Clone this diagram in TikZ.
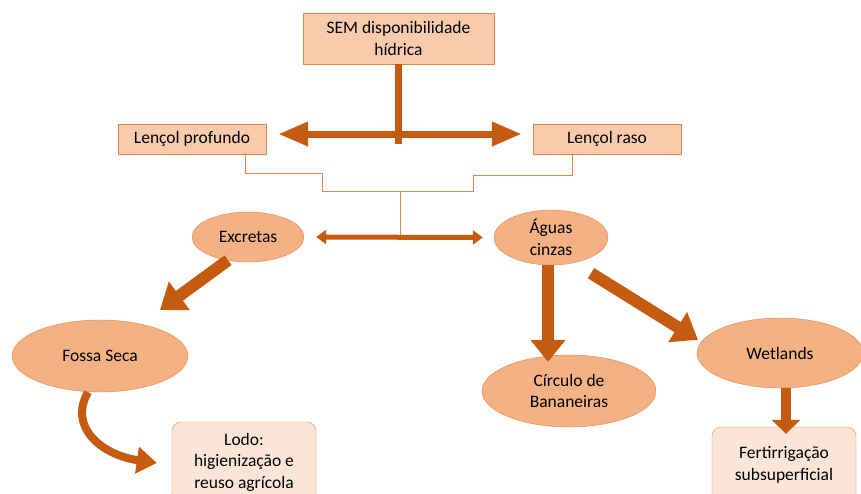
\documentclass[tikz,border=0pt]{standalone}
\usepackage{fontspec}
\setmainfont{Carlito}
\usetikzlibrary{arrows.meta}
\usetikzlibrary{positioning}
\usetikzlibrary{shapes.geometric}

\definecolor{caixa}{HTML}{F8CBAD}
\definecolor{borda}{HTML}{E2844A}
\definecolor{elipse}{HTML}{F4B183}
\definecolor{seta}{HTML}{C55A11}
\definecolor{claro}{HTML}{FBE5D6}

\tikzset{
  caixa/.style={draw=borda, fill=caixa, align=center, inner sep=0pt},
  elip/.style={ellipse, draw=borda, fill=elipse, align=center, inner sep=0pt},
  final/.style={draw=borda, fill=claro, rounded corners=9pt, align=center, inner sep=0pt},
  fina/.style={draw=borda, line width=0.8pt},
  grossa/.style={draw=seta, line width=#1},
}

\begin{document}
\begin{tikzpicture}[line join=round,x=1pt,y=-1pt,font=\fontsize{17.5}{21.5}\selectfont]
\useasboundingbox (0,0) rectangle (861,493);
% caixas do topo
\node[caixa, minimum width=191, minimum height=51] (sem) at (398.5,38.5) {SEM disponibilidade\\hídrica};
\node[caixa, minimum width=148, minimum height=30] (lp) at (192,139) {Lençol profundo};
\node[caixa, minimum width=148, minimum height=30] (lr) at (607,139) {Lençol raso};
% elipses
\node[elip, minimum width=112, minimum height=50] (exc) at (248,237) {Excretas};
\node[elip, minimum width=114, minimum height=55] (agua) at (551,237.5) {Águas\\cinzas};
\node[elip, minimum width=176, minimum height=72] (fossa) at (100,356) {Fossa Seca};
\node[elip, minimum width=174, minimum height=72] (banana) at (569,391) {Círculo de\\Bananeiras};
\node[elip, minimum width=166, minimum height=70] (wet) at (780,353) {Wetlands};
% caixas finais
\node[final, minimum width=144, minimum height=80] (lodo) at (244,462) {Lodo:\\higienização e\\reuso agrícola};
\node[final, minimum width=144, minimum height=76] (fert) at (784,465) {Fertirrigação\\subsuperficial};
% ligacoes
\coordinate (jtop) at (sem.south |- 0,144);
\coordinate (jmid) at (400,237);
\coordinate (jfin) at (400,191);
\draw[grossa=7pt] (sem.south) -- (jtop);
\draw[grossa=7pt, {Triangle[length=30pt,width=23pt]}-{Triangle[length=30pt,width=23pt]}]
  ([xshift=12pt,yshift=5pt]lp.east) -- ([xshift=-11pt,yshift=5pt]lr.west);
\draw[fina] ([xshift=53pt]lp.south) |- (322,173) |- (jfin);
\draw[fina] ([xshift=-35pt]lr.south) |- (473,175) |- (jfin);
\draw[fina] (jfin) -- (jmid);
\draw[grossa=5pt, {Triangle[length=10pt,width=14pt]}-{Triangle[length=10pt,width=14pt]}]
  ([xshift=12pt]exc.east) -- ([xshift=-11pt]agua.west);
\draw[grossa=12pt, -{Triangle[length=24pt,width=34pt]}] (exc.south) ++(-20,-2) -- (160,310);
\draw[grossa=12pt, -{Triangle[length=22pt,width=34pt]}] ([xshift=-3pt]agua.south) -- ([xshift=-21pt,yshift=-7pt]banana.north);
\draw[grossa=12pt, -{Triangle[length=24pt,width=34pt]}] ([xshift=40pt,yshift=-8pt]agua.south) -- ([xshift=-82pt,yshift=-22pt]wet.north);
\draw[grossa=10pt, -{Triangle[length=14pt,width=28pt]}] ([xshift=6pt]wet.south) -- ([xshift=2pt,yshift=-7pt]fert.north);
\draw[grossa=8pt, -{Triangle[length=20pt,width=26pt]}] ([xshift=-12pt]fossa.south)
  .. controls +(-20,35) and +(-55,-8) .. ([xshift=-15pt,yshift=-1pt]lodo.west);
\end{tikzpicture}
\end{document}
